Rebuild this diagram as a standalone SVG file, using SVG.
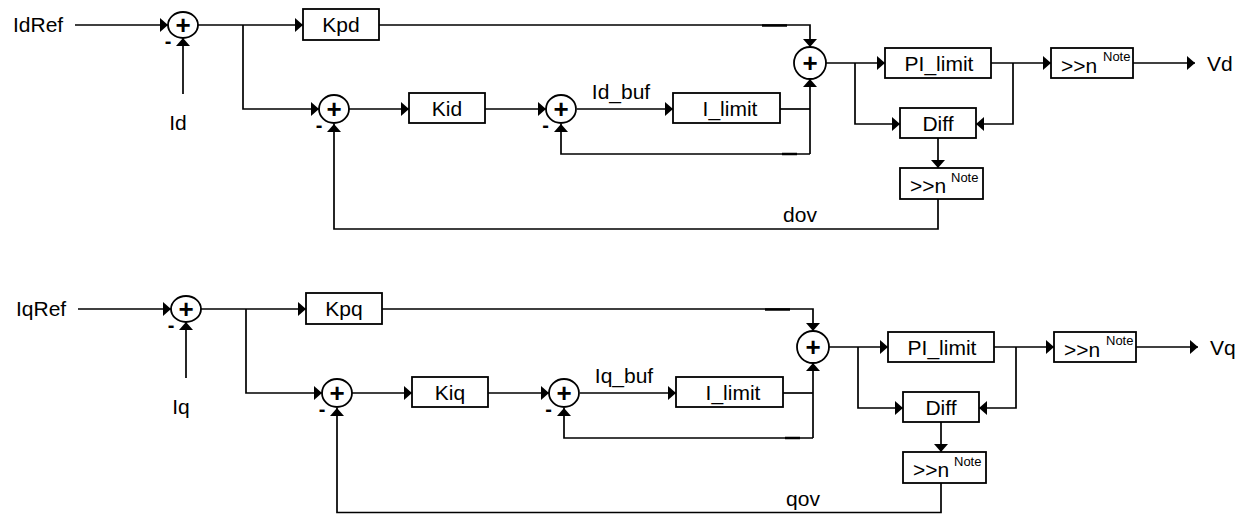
<svg xmlns="http://www.w3.org/2000/svg" width="1243" height="514" viewBox="0 0 1243 514">
<style>
.ln{fill:none;stroke:#000;stroke-width:1.7}
.box{fill:#fff;stroke:#000;stroke-width:1.8}
.sum{fill:#fff;stroke:#000;stroke-width:1.8}
.t{font-family:"Liberation Sans",Arial,sans-serif;font-size:21px;fill:#000}
.c{text-anchor:middle}
.sup{font-family:"Liberation Sans",Arial,sans-serif;font-size:13px;fill:#000}
.plus{font-family:"Liberation Sans",Arial,sans-serif;font-size:26px;font-weight:bold;text-anchor:middle;fill:#000}
.minus{font-family:"Liberation Sans",Arial,sans-serif;font-size:20px;font-weight:bold;text-anchor:middle;fill:#000}
.a{marker-end:url(#arr)}
.mk{fill:none;stroke:#000;stroke-width:2.5}
</style>
<defs>
<marker id="arr" viewBox="0 0 8 14" refX="8" refY="7" markerWidth="8" markerHeight="14" markerUnits="userSpaceOnUse" orient="auto">
<path d="M0,0 L8,7 L0,14 z" fill="#000"/>
</marker>
</defs>

<g id="d-loop">
  <g id="d-connectors">
    <path class="ln a" d="M75,25 H168"/>
    <path class="ln a" d="M183,94 V38"/>
    <path class="ln a" d="M198,25 H303"/>
    <path class="ln a" d="M243,25 V109 H319"/>
    <path class="ln a" d="M349,109 H409"/>
    <path class="ln a" d="M485,109 H546"/>
    <path class="ln a" d="M577,109 H673"/>
    <path class="ln a" d="M379,25 H810 V47"/>
    <path class="ln" d="M780,109 H810"/>
    <path class="ln a" d="M810,154 V79"/>
    <path class="ln a" d="M810,154 H561 V124"/>
    <path class="ln a" d="M826,63 H885"/>
    <path class="ln a" d="M855,63 V124 H900"/>
    <path class="ln a" d="M991,63 H1051"/>
    <path class="ln a" d="M1013,63 V124 H976"/>
    <path class="ln a" d="M1133,63 H1195"/>
    <path class="ln a" d="M938,138 V168"/>
    <path class="ln a" d="M938,199 V229 H334 V124"/>
    <path class="mk" d="M762,25.5 H787"/>
    <path class="mk" d="M782,154 H797"/>
  </g>
  <g id="d-labels">
    <text class="t" x="13" y="32">IdRef</text>
    <text class="t c" x="178" y="130">Id</text>
    <text class="t c" x="621" y="99">Id_buf</text>
    <text class="t" x="1207" y="71">Vd</text>
    <text class="t c" x="800" y="222">dov</text>
  </g>
  <g id="d-sum1"><ellipse class="sum" cx="183" cy="25" rx="15" ry="13"/><text class="plus" x="183" y="34">+</text><text class="minus" x="168" y="48">-</text></g>
  <g id="d-kpd"><rect class="box" x="303" y="9" width="76" height="31"/><text class="t c" x="341" y="32">Kpd</text></g>
  <g id="d-sum2"><ellipse class="sum" cx="334" cy="109" rx="15" ry="14"/><text class="plus" x="334" y="118">+</text><text class="minus" x="319" y="132">-</text></g>
  <g id="d-kid"><rect class="box" x="409" y="93" width="76" height="30"/><text class="t c" x="447" y="116">Kid</text></g>
  <g id="d-sum3"><ellipse class="sum" cx="561" cy="109" rx="15" ry="14"/><text class="plus" x="561" y="118">+</text><text class="minus" x="545.5" y="132">-</text></g>
  <g id="d-ilimit"><rect class="box" x="673" y="93" width="107" height="30"/><text class="t c" x="730" y="116">I_limit</text></g>
  <g id="d-sum4"><circle class="sum" cx="810" cy="63" r="16"/><text class="plus" x="810" y="72">+</text></g>
  <g id="d-pilimit"><rect class="box" x="885" y="48" width="106" height="30"/><text class="t c" x="939" y="70.5">PI_limit</text></g>
  <g id="d-diff"><rect class="box" x="900" y="108" width="76" height="30"/><text class="t c" x="938" y="130.5">Diff</text></g>
  <g id="d-shift1"><rect class="box" x="1051" y="48" width="82" height="30"/><text class="t" x="1061" y="73">&gt;&gt;n</text><text class="sup" x="1103" y="61">Note</text></g>
  <g id="d-shift2"><rect class="box" x="900" y="168" width="83" height="31"/><text class="t" x="910" y="193">&gt;&gt;n</text><text class="sup" x="951" y="182">Note</text></g>
</g>

<g id="q-loop" transform="translate(3,284)">
  <g id="q-connectors">
    <path class="ln a" d="M75,25 H168"/>
    <path class="ln a" d="M183,94 V38"/>
    <path class="ln a" d="M198,25 H303"/>
    <path class="ln a" d="M243,25 V109 H319"/>
    <path class="ln a" d="M349,109 H409"/>
    <path class="ln a" d="M485,109 H546"/>
    <path class="ln a" d="M577,109 H673"/>
    <path class="ln a" d="M379,25 H810 V47"/>
    <path class="ln" d="M780,109 H810"/>
    <path class="ln a" d="M810,154 V79"/>
    <path class="ln a" d="M810,154 H561 V124"/>
    <path class="ln a" d="M826,63 H885"/>
    <path class="ln a" d="M855,63 V124 H900"/>
    <path class="ln a" d="M991,63 H1051"/>
    <path class="ln a" d="M1013,63 V124 H976"/>
    <path class="ln a" d="M1133,63 H1195"/>
    <path class="ln a" d="M938,138 V168"/>
    <path class="ln a" d="M938,199 V228.5 H334 V124"/>
    <path class="mk" d="M762,25.5 H787"/>
    <path class="mk" d="M782,154 H797"/>
  </g>
  <g id="q-labels">
    <text class="t" x="13" y="32">IqRef</text>
    <text class="t c" x="178" y="130">Iq</text>
    <text class="t c" x="621" y="99">Iq_buf</text>
    <text class="t" x="1207" y="71">Vq</text>
    <text class="t c" x="800" y="222">qov</text>
  </g>
  <g id="q-sum1"><ellipse class="sum" cx="183" cy="25" rx="15" ry="13"/><text class="plus" x="183" y="34">+</text><text class="minus" x="168" y="48">-</text></g>
  <g id="q-kpq"><rect class="box" x="303" y="9" width="76" height="31"/><text class="t c" x="341" y="32">Kpq</text></g>
  <g id="q-sum2"><ellipse class="sum" cx="334" cy="109" rx="15" ry="14"/><text class="plus" x="334" y="118">+</text><text class="minus" x="319" y="132">-</text></g>
  <g id="q-kiq"><rect class="box" x="409" y="93" width="76" height="30"/><text class="t c" x="447" y="116">Kiq</text></g>
  <g id="q-sum3"><ellipse class="sum" cx="561" cy="109" rx="15" ry="14"/><text class="plus" x="561" y="118">+</text><text class="minus" x="545.5" y="132">-</text></g>
  <g id="q-ilimit"><rect class="box" x="673" y="93" width="107" height="30"/><text class="t c" x="730" y="116">I_limit</text></g>
  <g id="q-sum4"><circle class="sum" cx="810" cy="63" r="16"/><text class="plus" x="810" y="72">+</text></g>
  <g id="q-pilimit"><rect class="box" x="885" y="48" width="106" height="30"/><text class="t c" x="939" y="70.5">PI_limit</text></g>
  <g id="q-diff"><rect class="box" x="900" y="108" width="76" height="30"/><text class="t c" x="938" y="130.5">Diff</text></g>
  <g id="q-shift1"><rect class="box" x="1051" y="48" width="82" height="30"/><text class="t" x="1061" y="73">&gt;&gt;n</text><text class="sup" x="1103" y="61">Note</text></g>
  <g id="q-shift2"><rect class="box" x="900" y="168" width="83" height="31"/><text class="t" x="910" y="193">&gt;&gt;n</text><text class="sup" x="951" y="182">Note</text></g>
</g>
</svg>
